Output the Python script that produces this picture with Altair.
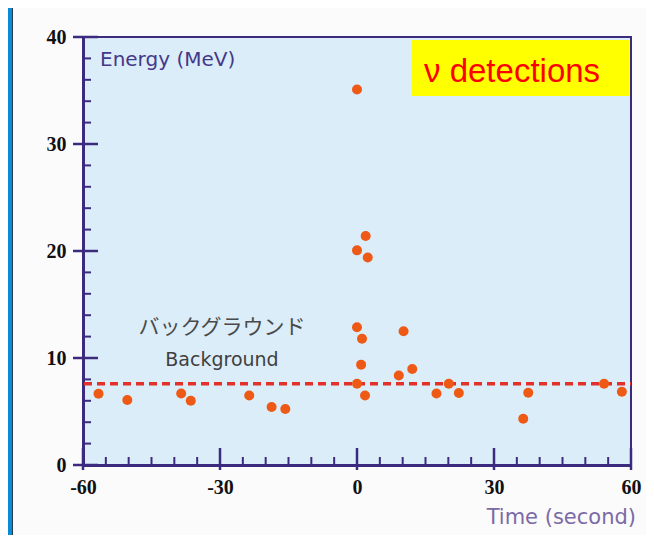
import altair as alt
import pandas as pd

# ---- data ----
times = [-56.6, -50.3, -38.5, -36.4, -23.6, -18.7, -15.7, 0.0, 0.0, 1.9, 2.35,
         0.0, 1.1, 0.9, 0.0, 1.76, 10.2, 9.15, 12.1, 17.4, 20.1, 22.3, 36.4,
         37.5, 54.1, 58.0]
energies = [6.66, 6.07, 6.69, 6.01, 6.5, 5.42, 5.23, 35.1, 20.06, 21.4, 19.4,
            12.87, 11.8, 9.38, 7.6, 6.5, 12.5, 8.37, 8.97, 6.69, 7.6, 6.73, 4.33,
            6.76, 7.6, 6.85]
background_level = [7.6]
x_major = [-60, -30, 0, 30, 60]
x_minor = [-55, -50, -45, -40, -35, -25, -20, -15, -10, -5,
           5, 10, 15, 20, 25, 35, 40, 45, 50, 55]
y_major = [0, 10, 20, 30, 40]
y_minor = [2, 4, 6, 8, 12, 14, 16, 18, 22, 24, 26, 28, 32, 34, 36, 38]

W, H = 548, 428
PURPLE = "#3b2a7d"

xs = alt.Scale(domain=[-60, 60], nice=False, zero=False)
ys = alt.Scale(domain=[0, 40], nice=False, zero=False)
xaxis = alt.Axis(values=x_major, title=None, grid=False, ticks=False, tickSize=0,
                 domainColor=PURPLE, domainWidth=3, labelFont="Liberation Serif",
                 labelFontWeight="bold", labelFontSize=20, labelColor="#111111",
                 labelPadding=12, labelFlush=False, labelOverlap=False,
                 labelExpr="'' + datum.value")
yaxis = alt.Axis(values=y_major, title=None, grid=False, ticks=False, tickSize=0,
                 domainColor=PURPLE, domainWidth=3, labelFont="Liberation Serif",
                 labelFontWeight="bold", labelFontSize=20, labelColor="#111111",
                 labelPadding=17, labelFlush=False, labelOverlap=False,
                 labelExpr="'' + datum.value")


def X(f):
    return alt.X(f, type="quantitative", scale=xs, axis=xaxis)


def Y(f):
    return alt.Y(f, type="quantitative", scale=ys, axis=yaxis)


pts = pd.DataFrame({"t": times, "e": energies})

# left blue border of the slide
band = alt.Chart(pd.DataFrame({"a": [0]})).mark_rect(color="#0b8ad6").encode(
    x=alt.value(-75), x2=alt.value(-71), y=alt.value(-29), y2=alt.value(498))
band_line = alt.Chart(pd.DataFrame({"a": [0]})).mark_rect(color="#2a3a4a").encode(
    x=alt.value(-71), x2=alt.value(-70), y=alt.value(-29), y2=alt.value(498))

xminor = alt.Chart(pd.DataFrame({"t": x_minor})).mark_rule(color=PURPLE, strokeWidth=2).encode(
    x=X("t"), y=alt.value(H - 8), y2=alt.value(H))
xmajor = alt.Chart(pd.DataFrame({"t": x_major})).mark_rule(color=PURPLE, strokeWidth=2.5).encode(
    x=X("t"), y=alt.value(H - 17), y2=alt.value(H + 5))
yminor = alt.Chart(pd.DataFrame({"e": y_minor})).mark_rule(color=PURPLE, strokeWidth=2).encode(
    y=Y("e"), x=alt.value(0), x2=alt.value(8))
ymajor = alt.Chart(pd.DataFrame({"e": y_major})).mark_rule(color=PURPLE, strokeWidth=2.5).encode(
    y=Y("e"), x=alt.value(-10), x2=alt.value(15))

bg_line = alt.Chart(pd.DataFrame({"e": background_level})).mark_rule(
    color="#e3302a", strokeWidth=3.5, strokeDash=[8, 5]).encode(
    y=Y("e"), x=alt.value(1), x2=alt.value(W))

points = alt.Chart(pts).mark_circle(size=100, color="#ee5a16", opacity=1).encode(
    x=X("t"), y=Y("e"))

box = alt.Chart(pd.DataFrame({"a": [0]})).mark_rect(color="#ffff00").encode(
    x=alt.value(329), x2=alt.value(546), y=alt.value(3), y2=alt.value(59))
box_text = alt.Chart(pd.DataFrame({"a": [0]})).mark_text(
    text="ν detections", font="Liberation Sans", fontSize=33, color="#ff0000",
    align="left", baseline="alphabetic").encode(x=alt.value(341), y=alt.value(45))

energy_title = alt.Chart(pd.DataFrame({"a": [0]})).mark_text(
    text="Energy (MeV)", font="DejaVu Sans", fontSize=20, color="#45388a",
    align="left", baseline="middle").encode(x=alt.value(17), y=alt.value(23))
time_title = alt.Chart(pd.DataFrame({"a": [0]})).mark_text(
    text="Time (second)", font="DejaVu Sans", fontSize=21, color="#7b6aa6",
    align="right", baseline="middle").encode(x=alt.value(553), y=alt.value(481))
jp_text = alt.Chart(pd.DataFrame({"a": [0]})).mark_text(
    text="バックグラウンド", font="Noto Sans CJK JP", fontSize=21, color="#4a4a4a",
    align="center", baseline="middle").encode(x=alt.value(139), y=alt.value(291))
en_text = alt.Chart(pd.DataFrame({"a": [0]})).mark_text(
    text="Background", font="DejaVu Sans", fontSize=19, color="#3f3f3f",
    align="center", baseline="middle").encode(x=alt.value(139), y=alt.value(323))

chart = alt.layer(
    band, band_line, xminor, xmajor, yminor, ymajor, bg_line, points,
    box, box_text, energy_title, time_title, jp_text, en_text
).properties(
    width=W, height=H,
    autosize=alt.AutoSizeParams(type="none"),
    padding={"left": 75, "top": 29, "right": 15, "bottom": 70},
    background="#fbfbfb",
).configure_view(fill="#dbedf9", stroke=PURPLE, strokeWidth=2)

chart.save("out.html", embed_options={"renderer": "svg", "actions": False})
